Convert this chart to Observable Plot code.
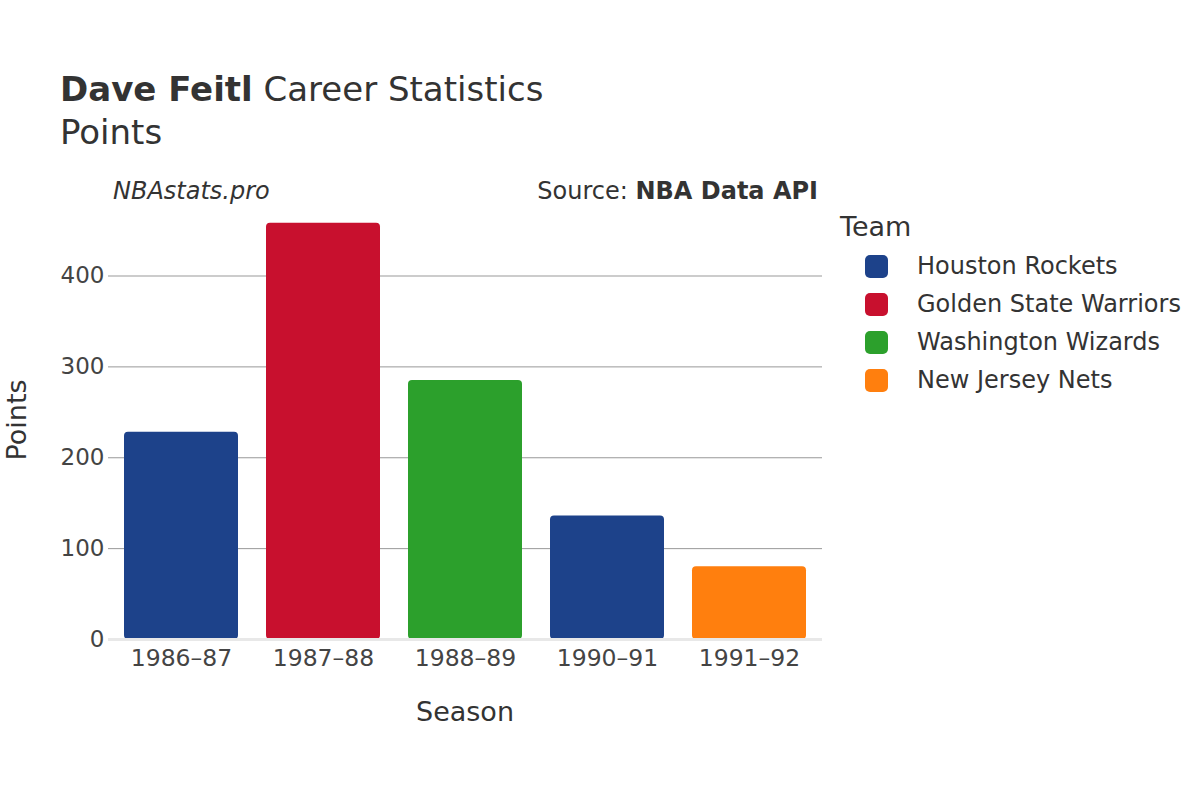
<!DOCTYPE html>
<html>
<head>
<meta charset="utf-8">
<script src="https://cdn.jsdelivr.net/npm/d3@7"></script>
<script src="https://cdn.jsdelivr.net/npm/@observablehq/plot@0.6"></script>
<style>
  body { margin: 0; background: #fff; font-family: "DejaVu Sans", sans-serif; color: #333; }
  #wrap { position: relative; width: 1200px; height: 800px; overflow: hidden; }
  .abs { position: absolute; white-space: nowrap; line-height: 1; }
  #chart { position: absolute; left: 0; top: 0; }
  .sw { position: absolute; width: 23px; height: 23px; border-radius: 5px; }
</style>
</head>
<body>
<div id="wrap">
  <div id="chart"></div>
  <div class="abs" id="title" style="left:60px; top:72px; font-size:34px; color:#333;"><b>Dave Feitl</b> Career Statistics</div>
  <div class="abs" id="subtitle" style="left:60px; top:115px; font-size:34px; color:#333;">Points</div>
  <div class="abs" style="left:113px; top:179px; font-size:24px; font-style:italic; color:#333;">NBAstats.pro</div>
  <div class="abs" style="right:382px; top:179px; font-size:24px; color:#333;">Source: <b>NBA Data API</b></div>
  <div class="abs" id="ytitle" style="left:16px; top:420px; font-size:27px; color:#333; transform: translate(-50%,-50%) rotate(-90deg); transform-origin: center;">Points</div>
  <div class="abs" id="xtitle" style="left:465px; top:698px; font-size:27px; color:#333; transform: translateX(-50%);">Season</div>
  <div id="legend"></div>
</div>
<script>
const seasons = ["1986–87", "1987–88", "1988–89", "1990–91", "1991–92"];
const teams = ["Houston Rockets", "Golden State Warriors", "Washington Wizards", "Houston Rockets", "New Jersey Nets"];
const points = [228, 458, 285, 136, 80];
const legendTeams = ["Houston Rockets", "Golden State Warriors", "Washington Wizards", "New Jersey Nets"];
const teamColors = ["#1D428A", "#C8102E", "#2CA02C", "#FF7F0E"];
const yTicks = [0, 100, 200, 300, 400];

const data = seasons.map((s, i) => ({season: s, team: teams[i], points: points[i]}));

const plot = Plot.plot({
  width: 1200,
  height: 800,
  marginLeft: 108,
  marginRight: 378,
  marginTop: 201,
  marginBottom: 161,
  style: { fontFamily: "DejaVu Sans, sans-serif", fontSize: "23px", color: "#444", background: "transparent" },
  x: { domain: seasons, paddingInner: 0.2, paddingOuter: 0.1, label: null, tickSize: 0, tickPadding: 8 },
  y: { domain: [0, 482], ticks: yTicks, label: null, tickSize: 0, tickPadding: 5 },
  color: { domain: legendTeams, range: teamColors },
  marks: [
    Plot.ruleY(yTicks.filter(d => d > 0), { stroke: "#999", strokeWidth: 1 }),
    Plot.barY(data, { x: "season", y: "points", fill: "team", rx: 4 }),
    Plot.ruleY([0], { stroke: "#e8e8e8", strokeWidth: 3 }),
    Plot.axisX({ tickSize: 0, tickPadding: 10, fontSize: 23.5, fill: "#444", label: null }),
    Plot.axisY({ ticks: yTicks, tickSize: 0, tickPadding: 4, fontSize: 23, fill: "#444", label: null })
  ]
});
document.getElementById("chart").appendChild(plot);

const legend = document.getElementById("legend");
const lt = document.createElement("div");
lt.className = "abs";
lt.style.cssText = "left:840px; top:213px; font-size:27px; color:#333;";
lt.textContent = "Team";
legend.appendChild(lt);
legendTeams.forEach((t, i) => {
  const y = 266 + i * 38;
  const sw = document.createElement("div");
  sw.className = "sw";
  sw.style.left = "865px";
  sw.style.top = (y - 11) + "px";
  sw.style.background = teamColors[i];
  legend.appendChild(sw);
  const tx = document.createElement("div");
  tx.className = "abs";
  tx.style.cssText = `left:917px; top:${y - 12}px; font-size:24px; color:#333;`;
  tx.textContent = t;
  legend.appendChild(tx);
});
</script>
</body>
</html>
